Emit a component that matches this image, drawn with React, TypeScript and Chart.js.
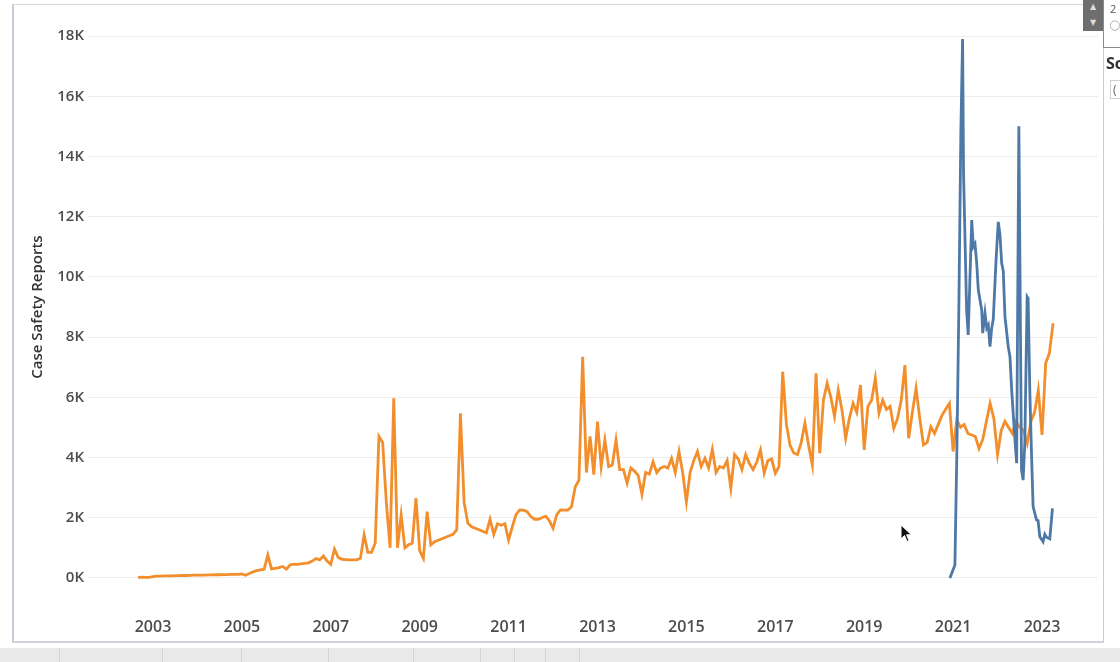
import React, { useEffect, useRef } from 'react';
import { Chart, registerables } from 'chart.js';

Chart.register(...registerables);

// ---- Data ----
const yTickValues = [0, 2000, 4000, 6000, 8000, 10000, 12000, 14000, 16000, 18000];
const xTickYears = [2003, 2005, 2007, 2009, 2011, 2013, 2015, 2017, 2019, 2021, 2023];

// Orange series: monthly values starting September 2002
const orangeStartYear = 2002;
const orangeStartMonth = 9;
const orangeValues = [
  // 2002 (Sep-Dec)
  20, 25, 20, 20,
  // 2003
  40, 60, 60, 65, 65, 70, 75, 75, 80, 80, 85, 90,
  // 2004
  90, 95, 95, 100, 100, 105, 105, 110, 110, 115, 120, 120,
  // 2005
  130, 90, 150, 200, 240, 270, 290, 760, 300, 320, 340, 380,
  // 2006
  290, 430, 460, 450, 470, 480, 500, 560, 640, 600, 730, 560,
  // 2007
  450, 960, 680, 620, 610, 600, 600, 600, 650, 1430, 850, 850,
  // 2008
  1160, 4700, 4500, 2500, 1000, 5970, 1000, 2090, 1000, 1100, 1150, 2650,
  // 2009
  900, 650, 2200, 1100, 1200, 1250, 1300, 1350, 1400, 1450, 1600, 5470,
  // 2010
  2500, 1820, 1700, 1650, 1600, 1550, 1500, 1950, 1450, 1800, 1750, 1800,
  // 2011
  1260, 1700, 2100, 2260, 2250, 2200, 2040, 1950, 1950, 2000, 2050, 1900,
  // 2012
  1650, 2100, 2260, 2250, 2250, 2370, 3030, 3250, 7350, 3500, 4700, 3430,
  // 2013
  5190, 3700, 4580, 3700, 3750, 4580, 3600, 3600, 3150, 3650, 3550, 3400,
  // 2014
  2780, 3500, 3450, 3860, 3500, 3650, 3700, 3650, 3970, 3500, 4200, 3500,
  // 2015
  2530, 3500, 3900, 4200, 3700, 3970, 3650, 4270, 3500, 3700, 3650, 3900,
  // 2016
  2980, 4100, 3950, 3600, 4100, 3800, 3600, 3850, 4250, 3480, 3900, 3950,
  // 2017
  3480, 3700, 6850, 5100, 4400, 4150, 4100, 4500, 5140, 4400, 3750, 6800,
  // 2018
  4140, 5910, 6470, 6000, 5360, 6240, 5580, 4640, 5300, 5800, 5500, 6410,
  // 2019
  4250, 5700, 5900, 6630, 5480, 5900, 5600, 5700, 4970, 5300, 5900, 7070,
  // 2020
  4640, 5500, 6300, 5300, 4420, 4500, 5020, 4800, 5100, 5400, 5600, 5800,
  // 2021
  4200, 5250, 5000, 5100, 4800, 4750, 4700, 4300, 4600, 5200, 5800, 5300,
  // 2022
  4100, 4900, 5200, 5000, 4800, 5200, 5000, 4900, 4470, 5200, 5500, 6240,
  // 2023 (Jan-Apr)
  4750, 7130, 7470, 8460,
];

// Blue series: report dates and values
const blueDates = [
  '2020-12-06', '2021-01-16', '2021-02-01', '2021-02-18', '2021-03-06', '2021-03-20',
  '2021-03-28', '2021-04-22', '2021-05-05', '2021-06-03', '2021-06-16', '2021-06-30',
  '2021-07-14', '2021-07-27', '2021-08-10', '2021-08-24', '2021-09-01', '2021-09-20',
  '2021-10-04', '2021-10-17', '2021-10-31', '2021-11-14', '2021-11-27', '2021-12-19',
  '2022-01-07', '2022-01-21', '2022-02-04', '2022-02-17', '2022-03-03', '2022-03-30',
  '2022-04-13', '2022-04-27', '2022-05-24', '2022-06-07', '2022-06-25', '2022-07-17',
  '2022-07-30', '2022-08-13', '2022-09-01', '2022-09-09', '2022-09-23', '2022-10-07',
  '2022-10-20', '2022-11-17', '2022-11-30', '2022-12-14', '2023-01-10', '2023-01-24',
  '2023-02-07', '2023-03-06', '2023-03-28',
];
const blueValues = [
  0, 430, 4200, 9200, 14900, 17900,
  13400, 8900, 8070, 11890, 11000, 11100,
  10450, 9570, 9230, 8900, 8130, 8800,
  8300, 8400, 7680, 8300, 8600, 10500,
  11830, 11400, 10450, 10200, 8680, 7680,
  7350, 6240, 4580, 3810, 15000, 3590,
  3250, 4500, 9340, 9290, 6200, 4100,
  2370, 1930, 1900, 1370, 1200, 1450,
  1350, 1300, 2310,
];

const yAxisTitle = 'Case Safety Reports';

// ---- helpers ----
function dateToYear(s: string): number {
  const [y, m, d] = s.split('-').map(Number);
  const start = Date.UTC(y, 0, 1);
  const end = Date.UTC(y + 1, 0, 1);
  return y + (Date.UTC(y, m - 1, d) - start) / (end - start);
}

const orangePoints = orangeValues.map((v, i) => {
  const mIndex = orangeStartMonth - 1 + i;
  return { x: orangeStartYear + mIndex / 12, y: v };
});
const bluePoints = blueValues.map((v, i) => ({ x: dateToYear(blueDates[i]), y: v }));

const FONT = "'Open Sans', 'DejaVu Sans', sans-serif";

export default function App() {
  const canvasRef = useRef<HTMLCanvasElement | null>(null);

  useEffect(() => {
    document.body.style.margin = '0';
    const canvas = canvasRef.current;
    if (!canvas) return;
    const chart = new Chart(canvas, {
      type: 'line',
      data: {
        datasets: [
          {
            label: 'Series B',
            data: bluePoints,
            borderColor: '#4E79A7',
            backgroundColor: '#4E79A7',
            borderWidth: 2.8,
            pointRadius: 0,
            tension: 0,
            fill: false,
          },
          {
            label: 'Series A',
            data: orangePoints,
            borderColor: '#F28E2B',
            backgroundColor: '#F28E2B',
            borderWidth: 2.8,
            pointRadius: 0,
            tension: 0,
            fill: false,
          },
        ],
      },
      options: {
        animation: false,
        responsive: false,
        maintainAspectRatio: false,
        parsing: false,
        normalized: true,
        layout: { padding: { left: 25, right: 22, top: 15, bottom: 23 } },
        plugins: {
          legend: { display: false },
          tooltip: { enabled: false },
        },
        scales: {
          x: {
            type: 'linear',
            min: 2001.538,
            max: 2024.26,
            grid: { display: false, drawTicks: false },
            border: { display: false },
            afterBuildTicks: (scale: any) => {
              scale.ticks = xTickYears.map((v) => ({ value: v }));
            },
            afterFit: (scale: any) => {
              scale.height = 40;
            },
            ticks: {
              autoSkip: false,
              maxRotation: 0,
              minRotation: 0,
              padding: 19,
              color: '#4d4d4d',
              font: { family: FONT, size: 16, weight: '600' },
              callback: (v: any) => String(v),
            },
          },
          y: {
            type: 'linear',
            min: -700,
            max: 18700,
            grid: { color: '#ececec', lineWidth: 1, drawTicks: false },
            border: { display: false },
            afterBuildTicks: (scale: any) => {
              scale.ticks = yTickValues.map((v) => ({ value: v }));
            },
            afterFit: (scale: any) => {
              scale.width = 63;
            },
            ticks: {
              padding: 4,
              color: '#4d4d4d',
              font: { family: FONT, size: 15, weight: '600' },
              callback: (v: any) => `${Number(v) / 1000}K`,
            },
            title: {
              display: true,
              text: yAxisTitle,
              color: '#333333',
              font: { family: FONT, size: 15, weight: '600' },
              padding: { top: 4, bottom: 4 },
            },
          },
        },
      } as any,
    });
    return () => chart.destroy();
  }, []);

  const seps = [59, 162, 241, 328, 413, 480, 514, 545, 579];

  return (
    <div
      style={{
        position: 'fixed',
        left: 0,
        top: 0,
        width: 1120,
        height: 662,
        background: '#ffffff',
        overflow: 'hidden',
        fontFamily: FONT,
      }}
    >
      {/* dashboard frame */}
      <div
        style={{
          position: 'absolute',
          left: 12,
          top: 4,
          width: 1089,
          height: 636,
          borderTop: '1px solid #d6d9de',
          borderRight: '1px solid #c9cdd3',
          borderBottom: '2px solid #cfd3d9',
          borderLeft: '2px solid #c5ccd6',
        }}
      />
      <canvas
        ref={canvasRef}
        width={1120}
        height={662}
        style={{ position: 'absolute', left: 0, top: 0, width: 1120, height: 662 }}
      />
      {/* top-right controls */}
      <div
        style={{
          position: 'absolute',
          left: 1083,
          top: 0,
          width: 20,
          height: 31,
          background: '#6e6e6e',
          color: '#dcdcdc',
          fontSize: 8,
          lineHeight: '8px',
          textAlign: 'center',
        }}
      >
        <div style={{ marginTop: 2 }}>▲</div>
        <div style={{ marginTop: 8 }}>▼</div>
      </div>
      <div
        style={{
          position: 'absolute',
          left: 1103,
          top: 0,
          width: 30,
          height: 47,
          borderLeft: '1px solid #8a8a8a',
          borderBottom: '1px solid #8a8a8a',
          background: '#fff',
        }}
      >
        <div style={{ position: 'absolute', left: 6, top: 1, fontSize: 11, color: '#555' }}>2</div>
        <div style={{ position: 'absolute', left: 5, top: 15, fontSize: 13, color: '#aaa' }}>○</div>
      </div>
      <div
        style={{
          position: 'absolute',
          left: 1106,
          top: 52,
          fontSize: 16,
          fontWeight: 700,
          color: '#333',
          whiteSpace: 'nowrap',
        }}
      >
        Sc
      </div>
      <div
        style={{
          position: 'absolute',
          left: 1110,
          top: 80,
          width: 30,
          height: 17,
          border: '1px solid #d0d0d0',
          fontSize: 12,
          color: '#666',
          paddingLeft: 2,
          lineHeight: '17px',
        }}
      >
        (
      </div>
      {/* bottom toolbar strip */}
      <div
        style={{
          position: 'absolute',
          left: 0,
          top: 648,
          width: 1120,
          height: 14,
          background: '#e9e9e9',
        }}
      >
        {seps.map((x) => (
          <div
            key={x}
            style={{ position: 'absolute', left: x, top: 0, width: 1, height: 14, background: '#d4d4d4' }}
          />
        ))}
      </div>
      {/* mouse cursor */}
      <svg
        style={{ position: 'absolute', left: 900, top: 524 }}
        width={14}
        height={20}
        viewBox="0 0 14 20"
      >
        <path d="M1 1 L1 15 L4.5 11.5 L7 17.5 L9 16.6 L6.6 10.8 L11.5 10.8 Z" fill="#111" stroke="#fff" strokeWidth={1} />
      </svg>
    </div>
  );
}
